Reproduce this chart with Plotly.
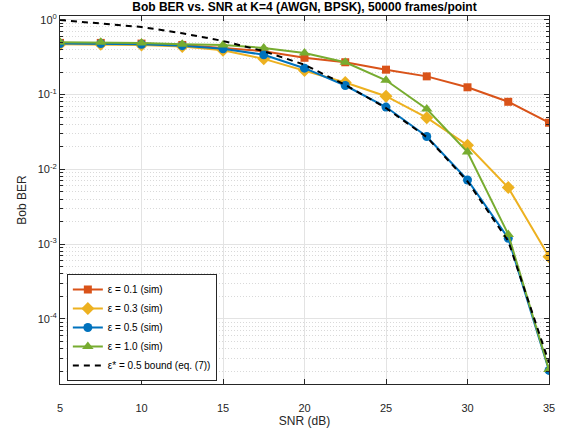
import plotly.graph_objects as go

snr = [5, 7.5, 10, 12.5, 15, 17.5, 20, 22.5, 25, 27.5, 30, 32.5, 35]
ber_e01 = [0.49, 0.49, 0.48, 0.46, 0.42, 0.38, 0.31, 0.27, 0.215, 0.175, 0.125, 0.08, 0.042]
ber_e03 = [0.47, 0.47, 0.46, 0.44, 0.39, 0.30, 0.21, 0.145, 0.095, 0.049, 0.021, 0.0057, 0.00068]
ber_e05 = [0.48, 0.48, 0.47, 0.45, 0.41, 0.34, 0.225, 0.132, 0.068, 0.0275, 0.0072, 0.0012, 2.05e-5]
ber_e10 = [0.50, 0.50, 0.49, 0.47, 0.46, 0.42, 0.36, 0.27, 0.155, 0.064, 0.017, 0.00135, 2.1e-5]
bound = [0.99, 0.90, 0.80, 0.66, 0.52, 0.38, 0.25, 0.135, 0.066, 0.027, 0.0069, 0.0011, 2.6e-5]

y_tickvals = [1e-4, 1e-3, 1e-2, 1e-1, 1]
y_ticktext = ["10<sup>-4</sup>", "10<sup>-3</sup>", "10<sup>-2</sup>", "10<sup>-1</sup>", "10<sup>0</sup>"]
y_minor = [m * 10.0 ** e for e in range(-5, 0) for m in range(2, 10)]
x_tickvals = [5, 10, 15, 20, 25, 30, 35]

series = [
    ("ε = 0.1 (sim)", ber_e01, "#D95319", "square", 8),
    ("ε = 0.3 (sim)", ber_e03, "#EDB120", "diamond", 10),
    ("ε = 0.5 (sim)", ber_e05, "#0072BD", "circle", 9),
    ("ε = 1.0 (sim)", ber_e10, "#77AC30", "triangle-up", 10),
]

fig = go.Figure()
for name, vals, col, sym, sz in series:
    fig.add_trace(go.Scatter(
        x=snr, y=vals, name=name, mode="lines+markers",
        line=dict(color=col, width=2),
        marker=dict(symbol=sym, size=sz, color=col, line=dict(width=0)),
    ))
fig.add_trace(go.Scatter(
    x=snr, y=bound, name="ε* = 0.5 bound (eq. (7))", mode="lines",
    line=dict(color="black", width=2, dash="6px,5px"),
))

axis_common = dict(
    showline=True, linecolor="#262626", linewidth=1, mirror="ticks",
    ticks="inside", tickcolor="#262626", ticklen=5,
    tickfont=dict(family="Liberation Sans, Arial, sans-serif", size=11, color="#262626"),
    showgrid=True, gridcolor="#e3e3e3", gridwidth=1, zeroline=False,
)

fig.update_layout(
    width=567, height=438,
    margin=dict(l=60, r=14, t=16, b=51),
    paper_bgcolor="white", plot_bgcolor="white",
    font=dict(family="Liberation Sans, Arial, sans-serif", size=11, color="#262626"),
    title=dict(text="<b>Bob BER vs. SNR at K=4 (AWGN, BPSK), 50000 frames/point</b>",
               x=0.5, xref="paper", xanchor="center", y=0.995, yanchor="top",
               font=dict(size=12, color="#000000")),
    showlegend=True,
    legend=dict(x=0.014, y=0.008, xanchor="left", yanchor="bottom",
                bgcolor="white", bordercolor="#262626", borderwidth=1,
                font=dict(size=10, color="#000000"),
                itemwidth=30, tracegroupgap=0),
)
fig.update_xaxes(range=[5, 35], tickvals=x_tickvals, ticklabelstandoff=14,
                 title=dict(text="SNR (dB)", font=dict(size=12), standoff=3),
                 **axis_common)
fig.update_yaxes(type="log", range=[-4.87, 0.05], tickmode="array",
                 tickvals=y_tickvals, ticktext=y_ticktext,
                 title=dict(text="Bob BER", font=dict(size=12), standoff=8),
                 minor=dict(tickmode="array", tickvals=y_minor, ticks="inside",
                            ticklen=3, tickcolor="#262626", showgrid=True,
                            gridcolor="#d9d9d9", griddash="1px,2px", gridwidth=1),
                 **axis_common)

fig.write_html("out.html", config={"displayModeBar": False},
               post_script="document.body.style.margin='0';document.body.style.overflow='hidden';")
